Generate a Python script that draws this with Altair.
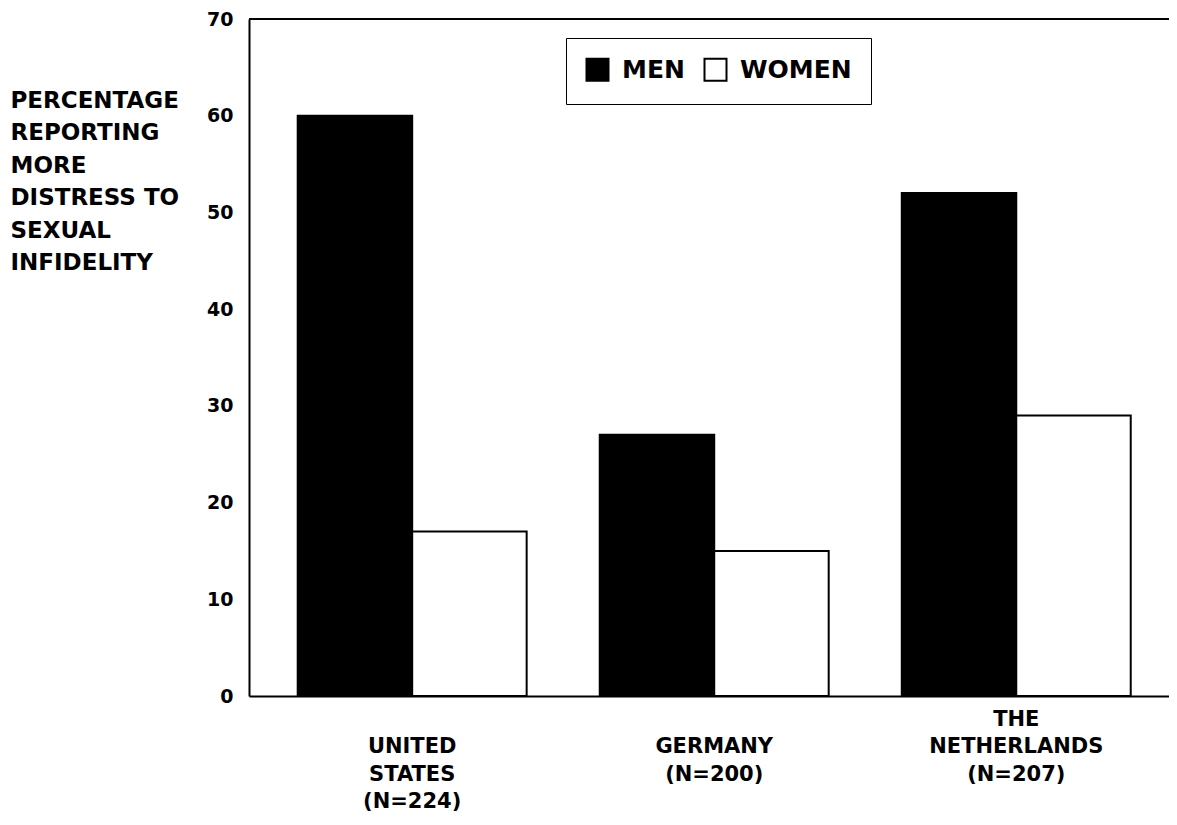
import altair as alt
import pandas as pd

# ---- data ----
countries = ["UNITED STATES", "GERMANY", "THE NETHERLANDS"]
men_pct = [60, 27, 52]
women_pct = [17, 15, 29]
sexes = ["MEN", "WOMEN"]
y_ticks = [0, 10, 20, 30, 40, 50, 60, 70]
label_lines = [
    ["UNITED", "STATES", "(N=224)"],
    ["GERMANY", "(N=200)"],
    ["THE", "NETHERLANDS", "(N=207)"],
]
# layout: line index where each country's label starts
label_start = [0, 0, -1]
y_title = ["PERCENTAGE", "REPORTING", "MORE", "DISTRESS TO", "SEXUAL", "INFIDELITY"]

rows = []
for c, m, w in zip(countries, men_pct, women_pct):
    rows.append({"country": c, "sex": "MEN", "pct": m})
    rows.append({"country": c, "sex": "WOMEN", "pct": w})
bars_df = pd.DataFrame(rows)

lab_rows = []
for c, lines, s in zip(countries, label_lines, label_start):
    for i, t in enumerate(lines):
        lab_rows.append({"country": c, "text": t, "line": s + i})
labels_df = pd.DataFrame(lab_rows)

FONT = "DejaVu Sans"
W, H = 920, 677

x_enc = alt.X(
    "country:N",
    sort=countries,
    scale=alt.Scale(paddingInner=0.242, paddingOuter=0.144, align=0.56),
    axis=alt.Axis(title=None, labels=False, ticks=False, domain=True,
                  domainColor="black", domainWidth=2),
)

bars = alt.Chart(bars_df).mark_bar(stroke="black", strokeWidth=2).encode(
    x=x_enc,
    xOffset=alt.XOffset("sex:N", sort=sexes, scale=alt.Scale(paddingInner=0, paddingOuter=0)),
    y=alt.Y(
        "pct:Q",
        scale=alt.Scale(domain=[0, 70], nice=False),
        axis=alt.Axis(
            values=y_ticks,
            grid=False,
            ticks=False,
            domain=True,
            domainColor="black",
            domainWidth=2,
            labelFont=FONT,
            labelFontSize=19,
            labelFontWeight="bold",
            labelColor="black",
            labelPadding=16,
            title=y_title,
            titleFont=FONT,
            titleFontSize=23,
            titleFontWeight="bold",
            titleColor="black",
            titleAngle=0,
            titleAlign="left",
            titleBaseline="top",
            titleX=-239,
            titleY=70,
            titleLineHeight=32.5,
        ),
    ),
    fill=alt.Fill(
        "sex:N",
        sort=sexes,
        scale=alt.Scale(domain=sexes, range=["black", "white"]),
        legend=alt.Legend(
            title=None,
            orient="none",
            legendX=317,
            legendY=19,
            direction="horizontal",
            strokeColor="black",
            padding=19,
            symbolType="square",
            symbolSize=484,
            symbolStrokeColor="black",
            symbolStrokeWidth=2,
            labelFont=FONT,
            labelFontSize=25,
            labelFontWeight="bold",
            labelColor="black",
            labelOffset=12,
            columnPadding=15,
        ),
    ),
)

top_line = alt.Chart(bars_df).mark_rule(color="black", strokeWidth=2).encode(
    x=alt.value(0), x2=alt.value(W), y=alt.value(0)
)

labels = alt.Chart(labels_df).mark_text(
    font=FONT, fontSize=21, fontWeight="bold", color="black", baseline="alphabetic", align="center"
).encode(
    x=alt.X("country:N", sort=countries),
    y=alt.Y("line:Q", scale=alt.Scale(domain=[-1, 2], range=[706.6, 789]), axis=None),
    text="text:N",
)

chart = (
    alt.layer(bars, top_line, labels)
    .resolve_scale(y="independent")
    .properties(
        width=W,
        height=H,
        autosize=alt.AutoSizeParams(type="none"),
        padding={"left": 241, "top": 11, "right": 0, "bottom": 121},
    )
    .configure_view(stroke=None)
    .configure(background="white")
)

chart.save("out.html", embed_options={"renderer": "svg", "actions": False})
